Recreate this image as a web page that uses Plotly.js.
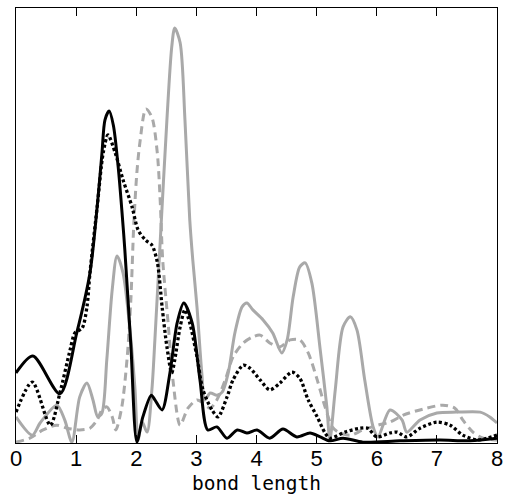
<!DOCTYPE html>
<html>
<head>
<meta charset="utf-8">
<script src="https://cdn.plot.ly/plotly-3.0.1.min.js"></script>
<style>html,body{margin:0;padding:0;background:#fff;}</style>
</head>
<body>
<div id="chart" style="width:507px;height:495px;"></div>
<script>
// Series: black solid
const xBlackSolid = [0,0.28,0.73,1.01,1.23,1.35,1.43,1.48,1.55,1.62,1.70,1.76,1.81,1.91,2.01,2.11,2.25,2.31,2.43,2.56,2.68,2.79,2.93,3.06,3.19,3.34,3.51,3.68,3.84,4.01,4.22,4.44,4.67,4.89,5.06,5.22,5.44,5.77,6.39,7.05,7.55,8.0];
const yBlackSolid = [1.61,2.00,1.13,2.53,3.91,5.43,6.67,7.43,7.63,7.30,6.34,5.36,4.44,2.25,0.02,0.60,1.10,0.99,0.76,1.61,2.76,3.22,2.76,1.45,0.30,0.37,0.11,0.30,0.23,0.30,0.11,0.32,0.14,0.23,0.14,0.05,0.11,0.02,0.05,0.07,0.05,0.11];
// Series: black dotted
const xBlackDot = [0,0.27,0.57,0.73,0.90,0.98,1.10,1.18,1.23,1.35,1.45,1.53,1.65,1.78,1.93,2.03,2.15,2.26,2.35,2.43,2.51,2.59,2.64,2.73,2.81,2.89,3.01,3.11,3.26,3.36,3.51,3.61,3.78,3.89,4.06,4.22,4.39,4.59,4.72,4.86,5.01,5.14,5.22,5.47,5.72,5.85,6.00,6.22,6.34,6.50,6.72,7.00,7.22,7.43,7.67,7.83,8.0];
const yBlackDot = [0.71,1.40,0.41,1.15,2.14,2.53,2.64,3.13,3.91,5.43,6.67,7.08,6.67,6.05,5.43,4.90,4.67,4.55,4.16,3.13,2.21,1.61,1.91,2.67,3.06,2.76,1.98,1.22,0.76,0.60,1.06,1.45,1.79,1.72,1.45,1.22,1.38,1.63,1.49,0.99,0.60,0.23,0.11,0.25,0.34,0.34,0.14,0.23,0.25,0.14,0.34,0.48,0.41,0.18,0.07,0.11,0.18];
// Series: gray solid
const xGraySolid = [0,0.27,0.40,0.68,0.81,0.93,1.06,1.18,1.28,1.36,1.43,1.51,1.60,1.68,1.78,1.90,1.98,2.03,2.10,2.18,2.26,2.31,2.40,2.51,2.59,2.64,2.73,2.81,2.89,2.94,3.01,3.09,3.14,3.23,3.34,3.43,3.53,3.64,3.76,3.84,3.94,4.11,4.27,4.42,4.51,4.61,4.72,4.81,4.92,5.06,5.17,5.22,5.31,5.44,5.56,5.67,5.80,5.94,6.02,6.22,6.42,6.50,6.72,7.00,7.33,7.72,7.88,8.0];
const yGraySolid = [0.60,0.18,0.46,0.87,0.53,0.02,1.06,1.38,0.99,0.60,0.69,1.91,3.52,4.30,3.91,2.53,1.22,0.07,0.48,0.25,1.22,2.37,4.67,7.43,9.10,9.54,9.20,7.43,5.13,4.21,3.13,1.61,0.99,1.15,1.10,1.17,1.61,2.53,3.13,3.22,3.06,2.83,2.53,2.07,2.37,3.36,4.05,4.14,3.68,2.14,0.83,0.07,1.22,2.67,2.90,2.60,1.45,0.37,0.14,0.76,0.53,0.25,0.53,0.69,0.71,0.71,0.60,0.46];
// Series: gray dashed
const xGrayDash = [0,0.23,0.45,0.68,0.85,1.06,1.23,1.35,1.43,1.51,1.60,1.66,1.76,1.85,1.91,1.96,2.01,2.06,2.16,2.26,2.35,2.40,2.44,2.53,2.61,2.73,2.86,3.01,3.11,3.23,3.34,3.48,3.61,3.78,3.94,4.06,4.22,4.39,4.56,4.72,4.86,5.01,5.14,5.26,5.36,5.56,5.77,6.02,6.22,6.44,6.77,7.10,7.30,7.43,7.60,7.77,7.97,8.0];
const yGrayDash = [0.02,0.11,0.30,0.41,0.34,0.30,0.34,0.53,0.76,0.83,0.60,0.30,0.83,1.98,3.29,5.06,6.21,6.90,7.68,7.49,6.67,5.52,4.21,2.76,1.45,0.41,0.80,0.99,0.92,0.80,0.99,1.45,1.98,2.30,2.44,2.48,2.30,2.21,2.37,2.37,2.07,1.45,0.83,0.37,0.25,0.18,0.30,0.41,0.48,0.64,0.78,0.87,0.80,0.53,0.25,0.11,0.07,0.07];
const xTickVals = [0,1,2,3,4,5,6,7,8];
const xTickText = ['0','1','2','3','4','5','6','7','8'];
const xLabel = 'bond length';

const gray = '#a9a9a9';
const traces = [
  {x:xGraySolid, y:yGraySolid, mode:'lines', line:{color:gray, width:3, shape:'spline', smoothing:0.8}},
  {x:xGrayDash, y:yGrayDash, mode:'lines', line:{color:gray, width:3, dash:'8px,5px', shape:'spline', smoothing:0.8}},
  {x:xBlackDot, y:yBlackDot, mode:'lines', line:{color:'#000', width:3.3, dash:'3px,2.5px', shape:'spline', smoothing:0.8}},
  {x:xBlackSolid, y:yBlackSolid, mode:'lines', line:{color:'#000', width:3, shape:'spline', smoothing:0.8}}
];
const tickFont = "Liberation Sans Narrow, Liberation Sans, Arial, sans-serif";
const titleFont = "DejaVu Sans Mono, Liberation Mono, monospace";
const layout = {
  width:507, height:495,
  margin:{l:16, r:10, t:8, b:52},
  paper_bgcolor:'#fff', plot_bgcolor:'#fff',
  showlegend:false,
  font:{family:tickFont, color:'#000', size:22},
  xaxis:{range:[0,8], tickvals:xTickVals, ticktext:xTickText, ticks:'inside', ticklen:8, tickwidth:1, tickcolor:'#000',
         ticklabelstandoff:-4,
         showline:true, linecolor:'#000', linewidth:1, mirror:'ticks', showgrid:false, zeroline:false,
         tickfont:{family:tickFont, size:22}, title:{text:xLabel, font:{family:titleFont, size:19.5}, standoff:8}},
  yaxis:{range:[0,10], showticklabels:false, ticks:'', showline:true, linecolor:'#000', linewidth:1, mirror:true,
         showgrid:false, zeroline:false}
};
Plotly.newPlot('chart', traces, layout, {displayModeBar:false, staticPlot:true});
</script>
</body>
</html>
